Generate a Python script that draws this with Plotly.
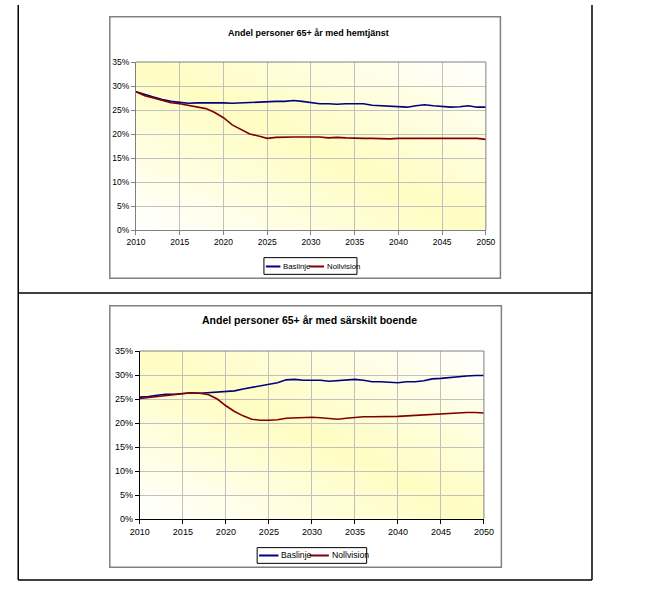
import base64
import plotly.graph_objects as go

W, H = 649, 589

years = list(range(2010, 2051))

hemtjanst_baslinje = [28.8, 28.2, 27.7, 27.2, 26.8, 26.6, 26.4, 26.5, 26.5, 26.6,
                      26.5, 26.4, 26.5, 26.6, 26.7, 26.8, 26.8, 26.8, 27.0, 26.8,
                      26.5, 26.3, 26.3, 26.2, 26.3, 26.3, 26.3, 26.0, 25.9, 25.7,
                      25.7, 25.6, 25.9, 26.1, 25.9, 25.7, 25.6, 25.7, 25.9, 25.6,
                      25.6]
hemtjanst_nollvision = [28.8, 28.0, 27.5, 27.0, 26.5, 26.3, 26.0, 25.7, 25.3, 24.5,
                        23.4, 21.9, 21.0, 20.0, 19.6, 19.1, 19.3, 19.4, 19.4, 19.4,
                        19.4, 19.4, 19.2, 19.3, 19.2, 19.1, 19.1, 19.1, 19.0, 19.0,
                        19.1, 19.1, 19.0, 19.0, 19.0, 19.1, 19.1, 19.1, 19.1, 19.1,
                        18.9]

boende_baslinje = [25.4, 25.5, 25.8, 26.0, 26.0, 26.2, 26.3, 26.2, 26.3, 26.5,
                   26.5, 26.7, 27.1, 27.4, 27.7, 28.1, 28.4, 29.0, 29.1, 28.9,
                   28.9, 28.9, 28.7, 28.8, 28.9, 29.1, 28.9, 28.6, 28.6, 28.5,
                   28.4, 28.6, 28.6, 28.8, 29.2, 29.3, 29.5, 29.7, 29.8, 29.9,
                   29.9]
boende_nollvision = [25.1, 25.3, 25.6, 25.8, 26.0, 26.1, 26.3, 26.2, 25.9, 25.0,
                     23.6, 22.4, 21.5, 20.8, 20.6, 20.6, 20.7, 21.0, 21.1, 21.1,
                     21.2, 21.1, 21.0, 20.8, 21.0, 21.2, 21.3, 21.3, 21.3, 21.3,
                     21.4, 21.5, 21.6, 21.8, 21.9, 21.9, 22.0, 22.1, 22.2, 22.2,
                     22.1]

y_ticks = [0, 5, 10, 15, 20, 25, 30, 35]
y_tick_labels = ["0%", "5%", "10%", "15%", "20%", "25%", "30%", "35%"]
x_ticks = [2010, 2015, 2020, 2025, 2030, 2035, 2040, 2045, 2050]

titles = ["Andel personer 65+ år med hemtjänst",
          "Andel personer 65+ år med särskilt boende"]
series_names = ["Baslinje", "Nollvision"]
colors = ["#000080", "#800000"]

FONT = "Liberation Sans, Arial, sans-serif"


def px(x):
    return x / W


def py(y):
    return 1 - y / H


svg = ("<svg xmlns='http://www.w3.org/2000/svg' width='200' height='100' "
       "preserveAspectRatio='none'><defs><linearGradient id='g' x1='0' y1='1' x2='1' y2='0'>"
       "<stop offset='0' stop-color='#FFFFFF'/><stop offset='0.5' stop-color='#FFFDC2'/>"
       "<stop offset='1' stop-color='#FFFFFF'/></linearGradient></defs>"
       "<rect width='200' height='100' fill='url(#g)'/></svg>")
grad_src = "data:image/svg+xml;base64," + base64.b64encode(svg.encode()).decode()

fig = go.Figure()

panels = [
    dict(data=[hemtjanst_baslinje, hemtjanst_nollvision], plot=(130, 58, 491, 229),
         frame=(103, 12, 506, 278), title_y=28, tfs=9, fs=8.5, lfs=7.8, axcol="#808080",
         leg=(262, 257, 358, 274), leg_items=[(264, 279, 280), (309, 324, 325)], leg_y=266),
    dict(data=[boende_baslinje, boende_nollvision], plot=(134, 352, 489, 523),
         frame=(103, 306, 507, 572), title_y=320, tfs=10.5, fs=9, lfs=8.7, axcol="#000000",
         leg=(255, 552, 368, 568), leg_items=[(257, 277, 278), (309, 329, 330)], leg_y=560),
]

shapes = []
annotations = []
images = []

for i, p in enumerate(panels):
    n = "" if i == 0 else str(i + 1)
    x0, y0, x1, y1 = p["plot"]
    for s, vals in enumerate(p["data"]):
        fig.add_trace(go.Scatter(x=years, y=vals, mode="lines", name=series_names[s],
                                 xaxis="x" + n, yaxis="y" + n, showlegend=False,
                                 line=dict(color=colors[s], width=1.6),
                                 hoverinfo="skip"))
    axfont = dict(family=FONT, size=p["fs"], color="#000000")
    fig.layout["xaxis" + n] = dict(domain=[px(x0), px(x1)], anchor="y" + n,
                                   range=[2010, 2050], tickvals=x_ticks,
                                   showgrid=True, gridcolor="#C0C0C0", gridwidth=1,
                                   showline=True, linecolor=p["axcol"], linewidth=1,
                                   ticks="outside", ticklen=4, tickcolor=p["axcol"],
                                   tickfont=axfont, zeroline=False, fixedrange=True)
    fig.layout["yaxis" + n] = dict(domain=[py(y1), py(y0)], anchor="x" + n,
                                   range=[0, 35], tickvals=y_ticks, ticktext=y_tick_labels,
                                   showgrid=True, gridcolor="#C0C0C0", gridwidth=1,
                                   showline=True, linecolor=p["axcol"], linewidth=1,
                                   ticks="outside", ticklen=4, tickcolor=p["axcol"],
                                   tickfont=axfont, zeroline=False, fixedrange=True)
    images.append(dict(source=grad_src, xref="paper", yref="paper",
                       x=px(x0), y=py(y0), sizex=px(x1) - px(x0), sizey=py(y0) - py(y1),
                       xanchor="left", yanchor="top", sizing="stretch", layer="below"))
    # plot area border (top/right grey)
    shapes.append(dict(type="line", xref="paper", yref="paper", x0=px(x0), x1=px(x1),
                       y0=py(y0), y1=py(y0), line=dict(color="#808080", width=1)))
    shapes.append(dict(type="line", xref="paper", yref="paper", x0=px(x1), x1=px(x1),
                       y0=py(y0), y1=py(y1), line=dict(color="#808080", width=1)))
    # chart frame
    fx0, fy0, fx1, fy1 = p["frame"]
    shapes.append(dict(type="rect", xref="paper", yref="paper", x0=px(fx0), x1=px(fx1),
                       y0=py(fy1), y1=py(fy0), line=dict(color="#808080", width=1.5),
                       layer="below"))
    # title
    annotations.append(dict(text="<b>" + titles[i] + "</b>", xref="paper", yref="paper",
                            x=px((x0 + x1) / 2 - 2), y=py(p["title_y"]), showarrow=False,
                            xanchor="center", yanchor="middle",
                            font=dict(family=FONT, size=p["tfs"], color="#000000")))
    # legend box
    lx0, ly0, lx1, ly1 = p["leg"]
    shapes.append(dict(type="rect", xref="paper", yref="paper", x0=px(lx0), x1=px(lx1),
                       y0=py(ly1), y1=py(ly0), line=dict(color="#000000", width=1),
                       fillcolor="#FFFFFF"))
    for s, (a, b, t) in enumerate(p["leg_items"]):
        shapes.append(dict(type="line", xref="paper", yref="paper", x0=px(a), x1=px(b),
                           y0=py(p["leg_y"]), y1=py(p["leg_y"]),
                           line=dict(color=colors[s], width=2)))
        annotations.append(dict(text=series_names[s], xref="paper", yref="paper",
                                x=px(t), y=py(p["leg_y"]), showarrow=False,
                                xanchor="left", yanchor="middle",
                                font=dict(family=FONT, size=p["lfs"], color="#000000")))

# outer table borders
for (a, b, c, d) in [(8.5, 0, 8.5, 585), (600.5, 0, 600.5, 585),
                     (8.5, 293, 600.5, 293), (8.5, 585, 600.5, 585)]:
    shapes.append(dict(type="line", xref="paper", yref="paper", x0=px(a), x1=px(c),
                       y0=py(b), y1=py(d), line=dict(color="#000000", width=1.5)))

fig.update_layout(width=W, height=H, margin=dict(l=0, r=0, t=0, b=0),
                  paper_bgcolor="#FFFFFF", plot_bgcolor="rgba(0,0,0,0)",
                  shapes=shapes, annotations=annotations, images=images,
                  showlegend=False, font=dict(family=FONT))

fig.write_html("out.html", config={"displayModeBar": False, "staticPlot": True},
               post_script="document.body.style.margin='0';document.body.style.overflow='hidden';")
